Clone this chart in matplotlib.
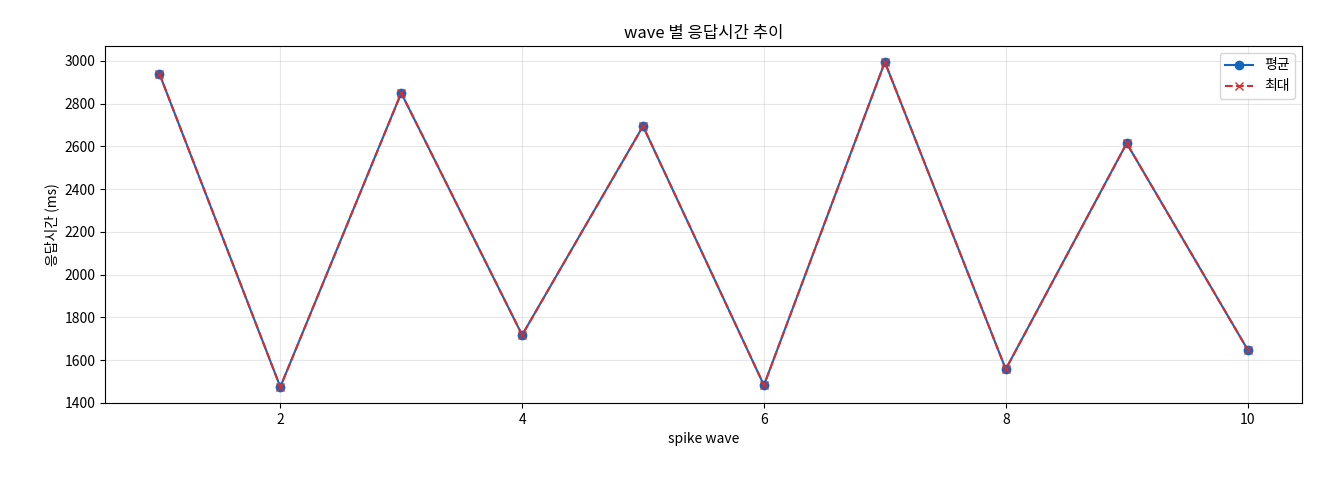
import matplotlib
matplotlib.use("Agg")
import matplotlib.pyplot as plt

plt.rcParams['font.family'] = ['Noto Sans CJK KR', 'DejaVu Sans']

waves = [1, 2, 3, 4, 5, 6, 7, 8, 9, 10]
avg = [2940, 1475, 2850, 1718, 2695, 1483, 2995, 1558, 2615, 1650]
mx = [2940, 1475, 2850, 1718, 2695, 1483, 2995, 1558, 2615, 1650]

fig = plt.figure(figsize=(13.2, 4.8), dpi=100)
ax = fig.add_axes([105/1320, 1-403/480, (1302-105)/1320, (403-46)/480])
ax.plot(waves, avg, marker='o', color='#1565c0', label='평균', markersize=6)
ax.plot(waves, mx, marker='x', linestyle='--', color='#d32f2f', label='최대', markersize=6)
ax.set_title('wave 별 응답시간 추이', fontsize=12)
ax.set_xlabel('spike wave', fontsize=10)
ax.set_ylabel('응답시간 (ms)', fontsize=10)
ax.set_ylim(1400, 3070)
ax.set_xlim(0.55, 10.45)
ax.grid(True, alpha=0.3)
ax.legend(loc='upper right', fontsize=10)
fig.savefig('out.png', dpi=100)
